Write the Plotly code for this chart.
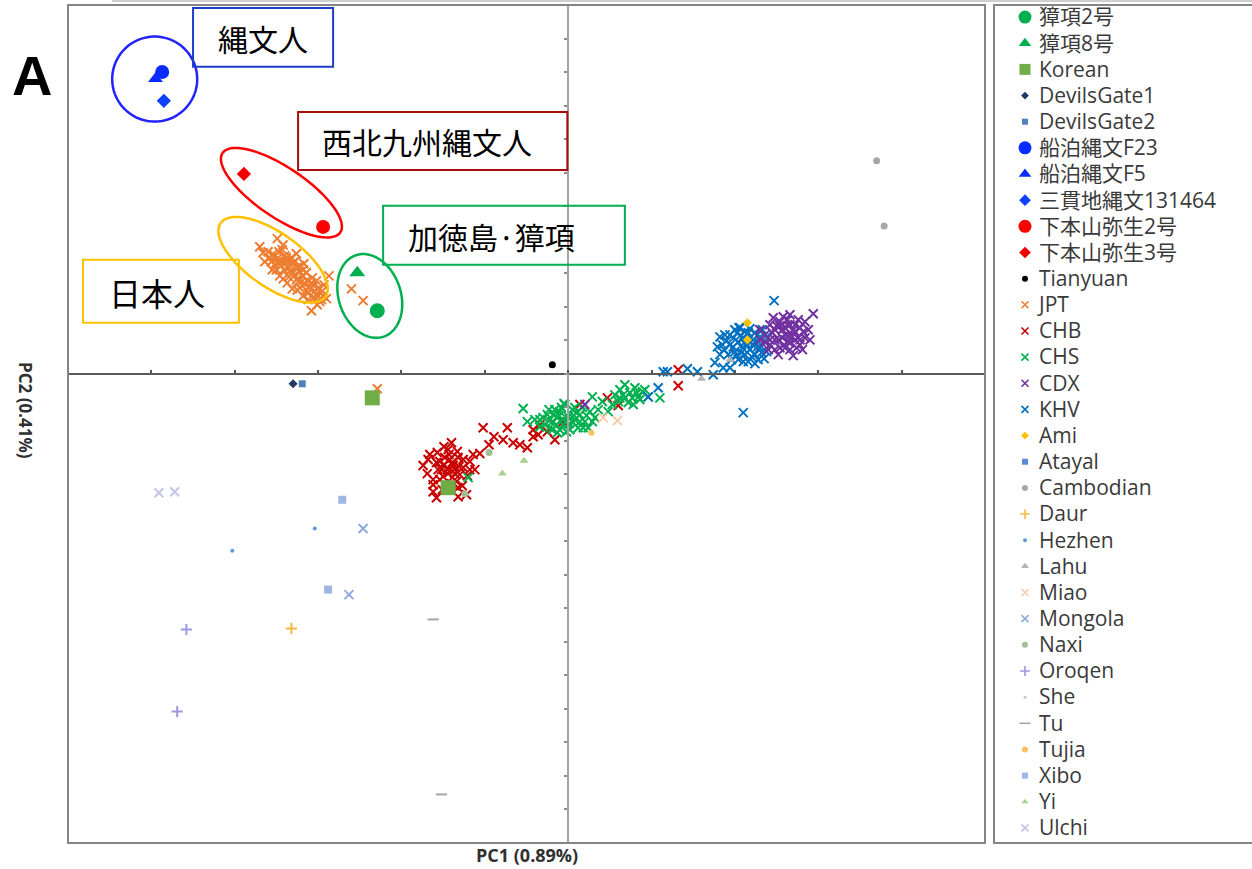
import math
import plotly.graph_objects as go

# ---------------------------------------------------------------------------
# PCA scores (PC1, PC2, both x100) for every sample group
# ---------------------------------------------------------------------------
JPT_PC1 = [-3.70, -3.49, -3.60, -3.52, -3.43, -3.56, -3.47, -3.38, -3.34, -3.41,
           -3.50, -3.30, -3.24, -3.35, -3.26, -3.19, -3.16, -3.22, -3.10, -3.05,
           -3.12, -3.00, -2.95, -3.02, -3.14, -3.28, -3.37, -3.46, -2.90, -2.87,
           -3.08, -2.98, -3.18, -3.31, -3.55, -3.64, -3.42, -3.26, -3.17, -3.07,
           -2.93, -3.01, -3.23, -3.40, -3.32, -3.14, -3.06, -2.94, -3.22, -3.48,
           -3.58, -2.60, -2.46, -2.29,
           -3.55, -3.46, -3.36, -3.29, -3.20, -3.11, -3.02, -3.40, -3.30, -3.22,
           -3.13, -3.08, -2.99, -3.25, -3.42, -3.52, -3.66, -3.34, -3.18, -3.05,
           -2.96, -3.12, -3.26, -3.37, -3.47]
JPT_PC2 = [3.79, 4.03, 3.64, 3.52, 3.70, 3.34, 3.28, 3.46, 3.25, 3.10,
           3.10, 3.04, 3.16, 2.89, 2.80, 2.92, 2.68, 2.56, 2.62, 2.44,
           2.41, 2.32, 2.47, 2.77, 3.01, 3.34, 2.71, 2.92, 2.24, 2.92,
           1.88, 2.15, 2.32, 2.53, 3.10, 3.34, 3.84, 3.58, 3.28, 2.86,
           2.65, 2.06, 2.77, 3.34, 3.46, 2.50, 2.26, 2.32, 3.04, 3.46,
           3.46, 2.53, 2.18, -0.45,
           3.55, 3.34, 3.16, 2.92, 2.74, 2.56, 2.38, 3.52, 3.31, 3.22,
           2.80, 2.71, 2.56, 2.50, 2.83, 3.25, 3.61, 3.04, 3.10, 2.62,
           2.21, 2.21, 3.16, 3.37, 3.64]

CHB_PC1 = [-1.74, -1.62, -1.62, -1.57, -1.44, -1.40, -1.32, -1.18, -1.06, -1.26,
           -1.54, -1.42, -1.32, -1.26, -1.36, -1.45, -1.50, -1.39, -1.62, -1.45,
           -1.32, -1.21, -1.49, -1.38, -1.30, -1.56, -1.68, -1.43, -1.34, -1.51,
           -1.14, -1.02, -0.89, -0.73, -0.95, -0.78, -0.66, -0.58, -0.49, -0.42,
           -0.34, -0.36, -0.25, -0.06, 0.14, 0.47, 0.60, 1.32, 1.32, -0.42, -0.16,
           -1.66, -1.58, -1.48, -1.39, -1.31, -1.44, -1.54, -1.40, -1.27, -1.58,
           -1.18, -1.12, -1.33, -1.69, -1.22, -1.49, -1.52, -1.36]
CHB_PC2 = [-2.74, -3.16, -3.52, -2.35, -2.26, -2.06, -3.67, -2.86, -2.38, -2.56,
           -2.62, -2.56, -2.50, -2.80, -2.86, -2.86, -3.07, -3.10, -3.31, -3.37,
           -3.40, -3.04, -2.71, -2.74, -3.01, -2.86, -2.56, -2.41, -3.22, -3.46,
           -2.41, -1.61, -1.88, -1.61, -2.12, -1.97, -2.06, -2.12, -2.21, -1.67,
           -1.52, -1.82, -1.73, -1.43, -0.92, -0.72, -0.95, 0.12, -0.36, -1.88, -1.97,
           -2.41, -2.65, -2.50, -2.65, -2.77, -2.98, -3.16, -3.28, -3.34, -3.70,
           -2.62, -2.86, -2.32, -2.98, -3.61, -2.18, -2.86, -2.98]

CHS_PC1 = [-0.34, -0.25, -0.19, -0.13, -0.10, -0.06, 0.00, 0.05, 0.08, 0.14,
           0.20, 0.12, 0.02, -0.10, -0.22, -0.28, -0.16, -0.04, 0.26, 0.32,
           0.24, 0.17, 0.36, 0.29, -0.05, -0.13, 0.06, -0.34, -0.40, -0.02,
           -0.18, 0.10,
           -0.30, -0.23, -0.14, -0.07, 0.01, 0.07, 0.14, 0.22, 0.29, -0.11,
           -0.19, -0.02, 0.18, 0.08, -0.08, -0.23,
           0.56, 0.62, 0.68, 0.74, 0.80, 0.84, 0.89, 0.72, 0.60, 0.78,
           0.92, 0.53, 0.68, 0.86, 0.66, 0.77, 0.82, 0.62,
           -0.54, -0.49, 1.10, -1.20, 0.41, 0.48, 0.96]
CHS_PC2 = [-1.37, -1.22, -1.43, -1.31, -1.13, -1.52, -1.28, -1.07, -1.37, -1.22,
           -1.43, -1.61, -1.67, -1.67, -1.61, -1.52, -1.07, -0.92, -1.13, -1.31,
           -1.61, -1.01, -1.07, -0.69, -0.89, -1.76, -1.46, -1.58, -1.37, -1.43,
           -1.22, -1.16,
           -1.31, -1.40, -1.52, -1.37, -1.49, -1.25, -1.43, -1.25, -1.43, -1.25,
           -1.67, -1.73, -1.61, -1.01, -1.01, -1.07,
           -0.63, -0.48, -0.72, -0.57, -0.42, -0.69, -0.54, -0.86, -0.83, -0.92,
           -0.48, -0.92, -0.33, -0.77, -0.63, -0.72, -0.57, -0.72,
           -1.04, -1.43, -0.72, -3.10, -0.83, -1.13, -0.69]

KHV_PC1 = [1.94, 2.00, 2.06, 2.12, 2.18, 2.24, 2.30, 2.16, 2.04, 1.94,
           2.09, 2.21, 2.30, 2.00, 2.12, 2.24, 2.36, 1.92, 2.04, 2.16,
           2.28, 2.38, 1.85, 1.88, 2.06, 2.18, 1.98, 2.33, 2.42, 2.11,
           1.98, 2.03, 2.10, 2.15, 2.22, 2.27, 2.08, 2.20, 2.32, 1.90,
           1.96, 2.10, 2.24, 2.35, 2.02, 1.87, 2.16, 2.28, 2.05, 2.38,
           2.47, 2.10, 1.19, 1.08, 0.96, 1.43, 1.74, 1.86, 1.94, 1.76,
           1.82, 1.79, 1.82, 1.14, 1.55]
KHV_PC2 = [1.16, 1.31, 1.37, 1.25, 1.34, 1.22, 1.10, 1.01, 0.95, 0.86,
           0.77, 0.86, 0.77, 0.66, 0.57, 0.57, 0.95, 0.57, 0.42, 0.36,
           0.42, 0.66, 0.86, 1.16, 1.13, 0.72, 1.07, 1.31, 0.86, 0.92,
           0.80, 1.22, 1.07, 0.86, 1.01, 0.80, 0.63, 0.51, 0.63, 0.98,
           0.42, 0.36, 0.30, 0.45, 0.54, 0.72, 1.22, 0.95, 1.37, 1.10,
           2.18, -1.16, 0.06, -0.42, -0.69, 0.15, -0.03, 0.18, 0.18, 0.33,
           0.57, 0.80, 1.10, 0.06, 0.06]

CDX_PC1 = [2.30, 2.36, 2.42, 2.48, 2.54, 2.60, 2.66, 2.72, 2.78, 2.84,
           2.94, 2.58, 2.48, 2.57, 2.64, 2.72, 2.78, 2.66, 2.54, 2.42,
           2.52, 2.70, 2.84, 2.88, 2.40, 2.60, 2.76, 2.46, 2.66, 2.90,
           2.36, 2.59, 2.50, 2.69, 2.81, 2.30, 2.72, 2.63,
           2.45, 2.52, 2.57, 2.64, 2.70, 2.76, 2.60, 2.74, 2.48, 2.66,
           2.82, 2.54, 2.64, 2.42, 2.78,
           0.20]
CDX_PC2 = [1.31, 1.16, 1.46, 1.31, 1.55, 1.37, 1.46, 1.25, 1.37, 1.55,
           1.79, 1.70, 1.01, 1.07, 0.95, 1.01, 0.86, 0.72, 0.77, 0.86,
           0.57, 0.54, 1.07, 1.31, 0.72, 1.16, 1.61, 1.67, 1.76, 1.01,
           0.95, 0.86, 1.43, 1.10, 0.72, 1.01, 1.46, 1.61,
           1.22, 1.01, 1.31, 1.13, 1.31, 1.07, 0.77, 0.77, 0.72, 0.92,
           1.25, 1.43, 1.43, 1.01, 1.01,
           -0.92]

AMI_PC1, AMI_PC2 = [2.15, 2.15], [1.52, 1.01]
ATAYAL_PC1, ATAYAL_PC2 = [], []
CAMBODIAN_PC1, CAMBODIAN_PC2 = [3.70, 3.79], [6.35, 4.41]
DAUR_PC1, DAUR_PC2 = [-3.32], [-7.60]
HEZHEN_PC1, HEZHEN_PC2 = [-3.04, -4.03], [-4.62, -5.28]
LAHU_PC1, LAHU_PC2 = [1.60, 1.94], [-0.15, 0.42]
MIAO_PC1, MIAO_PC2 = [0.42, 0.59], [-1.31, -1.40]
MONGOLA_PC1, MONGOLA_PC2 = [-2.46, -2.63], [-4.62, -6.59]
NAXI_PC1, NAXI_PC2 = [-1.24, -0.95], [-3.58, -2.35]
OROQEN_PC1, OROQEN_PC2 = [-4.58, -4.69], [-7.63, -10.08]
SHE_PC1, SHE_PC2 = [], []
TU_PC1, TU_PC2 = [-1.62, -1.52], [-7.33, -12.55]
TUJIA_PC1, TUJIA_PC2 = [0.28], [-1.76]
XIBO_PC1, XIBO_PC2 = [-2.71, -2.88], [-3.76, -6.44]
YI_PC1, YI_PC2 = [-0.79, -0.53], [-2.98, -2.60]
ULCHI_PC1, ULCHI_PC2 = [-4.91, -4.72], [-3.55, -3.52]

# ancient / reference individuals
JANGHANG2_PC1, JANGHANG2_PC2 = [-2.29], [1.88]
JANGHANG8_PC1, JANGHANG8_PC2 = [-2.53], [3.01]
KOREAN_PC1, KOREAN_PC2 = [-2.35, -1.44], [-0.72, -3.40]
DEVILSGATE1_PC1, DEVILSGATE1_PC2 = [-3.30], [-0.30]
DEVILSGATE2_PC1, DEVILSGATE2_PC2 = [-3.19], [-0.30]
FUNADOMARI_F23_PC1, FUNADOMARI_F23_PC2 = [-4.87], [9.00]
FUNADOMARI_F5_PC1, FUNADOMARI_F5_PC2 = [-4.95], [8.80]
SANGANJI_PC1, SANGANJI_PC2 = [-4.85], [8.14]
SHIMOMOTOYAMA2_PC1, SHIMOMOTOYAMA2_PC2 = [-2.94], [4.38]
SHIMOMOTOYAMA3_PC1, SHIMOMOTOYAMA3_PC2 = [-3.89], [5.96]
TIANYUAN_PC1, TIANYUAN_PC2 = [-0.19], [0.27]

# legend order
LEGEND = ["獐項2号", "獐項8号", "Korean", "DevilsGate1", "DevilsGate2",
          "船泊縄文F23", "船泊縄文F5", "三貫地縄文131464", "下本山弥生2号",
          "下本山弥生3号", "Tianyuan", "JPT", "CHB", "CHS", "CDX", "KHV", "Ami",
          "Atayal", "Cambodian", "Daur", "Hezhen", "Lahu", "Miao", "Mongola",
          "Naxi", "Oroqen", "She", "Tu", "Tujia", "Xibo", "Yi", "Ulchi"]

SCORES = {
    "獐項2号": (JANGHANG2_PC1, JANGHANG2_PC2),
    "獐項8号": (JANGHANG8_PC1, JANGHANG8_PC2),
    "Korean": (KOREAN_PC1, KOREAN_PC2),
    "DevilsGate1": (DEVILSGATE1_PC1, DEVILSGATE1_PC2),
    "DevilsGate2": (DEVILSGATE2_PC1, DEVILSGATE2_PC2),
    "船泊縄文F23": (FUNADOMARI_F23_PC1, FUNADOMARI_F23_PC2),
    "船泊縄文F5": (FUNADOMARI_F5_PC1, FUNADOMARI_F5_PC2),
    "三貫地縄文131464": (SANGANJI_PC1, SANGANJI_PC2),
    "下本山弥生2号": (SHIMOMOTOYAMA2_PC1, SHIMOMOTOYAMA2_PC2),
    "下本山弥生3号": (SHIMOMOTOYAMA3_PC1, SHIMOMOTOYAMA3_PC2),
    "Tianyuan": (TIANYUAN_PC1, TIANYUAN_PC2),
    "JPT": (JPT_PC1, JPT_PC2),
    "CHB": (CHB_PC1, CHB_PC2),
    "CHS": (CHS_PC1, CHS_PC2),
    "CDX": (CDX_PC1, CDX_PC2),
    "KHV": (KHV_PC1, KHV_PC2),
    "Ami": (AMI_PC1, AMI_PC2),
    "Atayal": (ATAYAL_PC1, ATAYAL_PC2),
    "Cambodian": (CAMBODIAN_PC1, CAMBODIAN_PC2),
    "Daur": (DAUR_PC1, DAUR_PC2),
    "Hezhen": (HEZHEN_PC1, HEZHEN_PC2),
    "Lahu": (LAHU_PC1, LAHU_PC2),
    "Miao": (MIAO_PC1, MIAO_PC2),
    "Mongola": (MONGOLA_PC1, MONGOLA_PC2),
    "Naxi": (NAXI_PC1, NAXI_PC2),
    "Oroqen": (OROQEN_PC1, OROQEN_PC2),
    "She": (SHE_PC1, SHE_PC2),
    "Tu": (TU_PC1, TU_PC2),
    "Tujia": (TUJIA_PC1, TUJIA_PC2),
    "Xibo": (XIBO_PC1, XIBO_PC2),
    "Yi": (YI_PC1, YI_PC2),
    "Ulchi": (ULCHI_PC1, ULCHI_PC2),
}

# marker style per group: symbol, colour, plot size, legend size
STYLE = {
    "獐項2号": ("circle", "#00b050", 15, 13),
    "獐項8号": ("triangle-up", "#00b050", 14, 11),
    "Korean": ("square", "#70ad47", 15, 11),
    "DevilsGate1": ("diamond", "#1f3864", 7, 6),
    "DevilsGate2": ("square", "#4f81bd", 7, 6),
    "船泊縄文F23": ("circle", "#0a2cff", 14, 13),
    "船泊縄文F5": ("triangle-up", "#0a2cff", 13, 11),
    "三貫地縄文131464": ("diamond", "#1040ff", 11, 9),
    "下本山弥生2号": ("circle", "#ff0000", 14, 13),
    "下本山弥生3号": ("diamond", "#f00000", 11, 9),
    "Tianyuan": ("circle", "#000000", 7, 6),
    "JPT": ("x-thin", "#ed7d31", 9, 7),
    "CHB": ("x-thin", "#c80000", 9, 7),
    "CHS": ("x-thin", "#00b050", 9, 7),
    "CDX": ("x-thin", "#7030a0", 9, 7),
    "KHV": ("x-thin", "#0070c0", 9, 7),
    "Ami": ("diamond", "#ffc000", 7, 6),
    "Atayal": ("square", "#5b8bd0", 7, 6),
    "Cambodian": ("circle", "#a6a6a6", 7, 6),
    "Daur": ("cross-thin", "#f4b942", 8, 7),
    "Hezhen": ("circle", "#5b9bd5", 4, 4),
    "Lahu": ("triangle-up", "#b4b4b4", 8, 7),
    "Miao": ("x-thin", "#f8cbad", 9, 7),
    "Mongola": ("x-thin", "#8faadc", 9, 7),
    "Naxi": ("circle", "#9fbf96", 7, 6),
    "Oroqen": ("cross-thin", "#9a9ae0", 8, 7),
    "She": ("circle", "#c8c8c8", 3, 3),
    "Tu": ("line-ew", "#a6a6a6", 8, 8),
    "Tujia": ("circle", "#f7c25e", 6, 6),
    "Xibo": ("square", "#9db6e3", 8, 6),
    "Yi": ("triangle-up", "#a9d18e", 8, 6),
    "Ulchi": ("x-thin", "#c5c5e8", 9, 7),
}
LINE_SYMBOLS = ("x-thin", "cross-thin", "line-ew")

# drawing order (bottom to top)
DRAW_ORDER = ["CHB", "CHS", "KHV", "CDX", "JPT", "Ami", "Atayal", "Cambodian",
              "Daur", "Hezhen", "Lahu", "Miao", "Mongola", "Naxi", "Oroqen",
              "She", "Tu", "Tujia", "Xibo", "Yi", "Ulchi", "Korean",
              "DevilsGate1", "DevilsGate2", "Tianyuan", "獐項8号", "獐項2号",
              "下本山弥生3号", "下本山弥生2号", "三貫地縄文131464",
              "船泊縄文F5", "船泊縄文F23"]

# ---------------------------------------------------------------------------
# layout geometry
# ---------------------------------------------------------------------------
FIG_W, FIG_H = 1252, 869
M_L, M_R, M_T, M_B = 68, 0, 4, 26
PAPER_W = FIG_W - M_L - M_R
PAPER_H = FIG_H - M_T - M_B
MAIN_W, MAIN_H = 917, 838
X_RANGE = [-6, 5]
Y_RANGE = [-14, 11]
X_DOM = [0, MAIN_W / PAPER_W]
Y_DOM = [0, MAIN_H / PAPER_H]
PX_PER_X = MAIN_W / (X_RANGE[1] - X_RANGE[0])
PX_PER_Y = MAIN_H / (Y_RANGE[1] - Y_RANGE[0])

fig = go.Figure()

for name in DRAW_ORDER:
    xs, ys = SCORES[name]
    if not xs:
        continue
    sym, col, size, _ = STYLE[name]
    fig.add_trace(go.Scatter(
        x=xs, y=ys, mode="markers", name=name, showlegend=False,
        hoverinfo="skip",
        marker=dict(symbol=sym, color=col, size=size, opacity=1,
                    line=dict(color=col, width=2 if sym in LINE_SYMBOLS else 0)),
    ))

# legend key drawn on its own category axis
fig.add_trace(go.Scatter(
    x=[0] * len(LEGEND), y=LEGEND, mode="markers", showlegend=False,
    hoverinfo="skip", xaxis="x2", yaxis="y2",
    marker=dict(
        symbol=[STYLE[n][0] for n in LEGEND],
        color=[STYLE[n][1] for n in LEGEND],
        size=[STYLE[n][3] for n in LEGEND],
        opacity=1,
        line=dict(color=[STYLE[n][1] for n in LEGEND],
                  width=[1.6 if STYLE[n][0] in LINE_SYMBOLS else 0 for n in LEGEND]),
    ),
))


def ellipse_path(cx, cy, a_px, b_px, angle_deg, n=90):
    """Closed SVG path of an ellipse given in screen pixels around a data centre."""
    th = math.radians(angle_deg)
    pts = []
    for i in range(n):
        t = 2 * math.pi * i / n
        dx = a_px * math.cos(t) * math.cos(th) - b_px * math.sin(t) * math.sin(th)
        dy = a_px * math.cos(t) * math.sin(th) + b_px * math.sin(t) * math.cos(th)
        pts.append((cx + dx / PX_PER_X, cy - dy / PX_PER_Y))
    return "M " + " L ".join(f"{x:.4f},{y:.4f}" for x, y in pts) + " Z"


shapes = []
# plot frame
shapes.append(dict(type="rect", xref="x domain", yref="y domain", x0=0, x1=1,
                   y0=0, y1=1, line=dict(color="#858585", width=2), layer="above"))
# legend frame
shapes.append(dict(type="rect", xref="paper", yref="paper",
                   x0=(994 - M_L) / PAPER_W, x1=1.02, y0=0, y1=(843 - 5) / PAPER_H,
                   line=dict(color="#858585", width=2)))
shapes.append(dict(type="line", xref="paper", yref="paper",
                   x0=(112 - M_L) / PAPER_W, x1=1.02, y0=1.0035, y1=1.0035,
                   line=dict(color="#cfcfcf", width=2)))

# group outlines
ELLIPSES = [
    ((-4.96, 8.79), 42.5, 42.5, 0, "#2323ff"),
    ((-3.44, 5.40), 71, 25, 34, "#ff0000"),
    ((-3.54, 3.40), 64, 27, 35, "#ffc000"),
    ((-2.38, 2.32), 43, 31, 71, "#00b050"),
]
for (cx, cy), a, b, ang, col in ELLIPSES:
    shapes.append(dict(type="path", xref="x", yref="y",
                       path=ellipse_path(cx, cy, a, b, ang),
                       line=dict(color=col, width=2.5), layer="above"))

# labelled boxes: text, x0, x1, y0, y1, text centre, border colour, font size
CALLOUTS = [
    ("縄文人", -4.50, -2.82, 9.16, 10.91, (-3.66, 10.02), "#1c3fc8", 30),
    ("西北九州縄文人", -3.24, -0.01, 6.08, 7.81, (-1.69, 6.95), "#a80c0c", 30),
    ("日本人", -5.82, -3.95, 1.52, 3.40, (-4.93, 2.44), "#ffc000", 32),
    ("加徳島·獐項", -2.22, 0.68, 3.25, 5.01, (-0.92, 4.11), "#00b050", 30),
]
annotations = []
for text, x0, x1, y0, y1, (tx, ty), col, fs in CALLOUTS:
    shapes.append(dict(type="rect", xref="x", yref="y", x0=x0, x1=x1, y0=y0, y1=y1,
                       line=dict(color=col, width=2), layer="above"))
    annotations.append(dict(x=tx, y=ty, xref="x", yref="y", text=text,
                            showarrow=False, xanchor="center", yanchor="middle",
                            font=dict(family="Noto Sans CJK JP", size=fs,
                                      color="#000000")))

annotations += [
    dict(x=(32 - M_L) / PAPER_W, y=(843 - 75) / PAPER_H, xref="paper", yref="paper",
         text="<b>A</b>", showarrow=False, xanchor="center", yanchor="middle",
         font=dict(family="Liberation Sans", size=56, color="#000000")),
    dict(x=0.5 * X_DOM[1], y=(843 - 855) / PAPER_H, xref="paper", yref="paper",
         text="<b>PC1 (0.89%)</b>", showarrow=False, xanchor="center",
         yanchor="middle",
         font=dict(family="Open Sans", size=18, color="#303030")),
    dict(x=(25 - M_L) / PAPER_W, y=(843 - 410) / PAPER_H, xref="paper",
         yref="paper", text="<b>PC2 (0.41%)</b>", showarrow=False, textangle=90,
         xanchor="center", yanchor="middle",
         font=dict(family="Open Sans", size=17, color="#303030")),
]

n_leg = len(LEGEND)
fig.update_layout(
    width=FIG_W, height=FIG_H, autosize=False,
    margin=dict(l=M_L, r=M_R, t=M_T, b=M_B),
    paper_bgcolor="#ffffff", plot_bgcolor="#ffffff",
    showlegend=False,
    xaxis=dict(domain=X_DOM, range=X_RANGE, anchor="free",
               position=Y_DOM[1] * (0 - Y_RANGE[0]) / (Y_RANGE[1] - Y_RANGE[0]),
               side="top", showline=True, linecolor="#5a5a5a", linewidth=2,
               ticks="outside", ticklen=3, tickwidth=1.5, tickcolor="#555555",
               tick0=0, dtick=1, showticklabels=False, showgrid=False,
               zeroline=False, fixedrange=True),
    yaxis=dict(domain=Y_DOM, range=Y_RANGE, anchor="free",
               position=X_DOM[1] * (0 - X_RANGE[0]) / (X_RANGE[1] - X_RANGE[0]),
               side="left", showline=True, linecolor="#a3a3a3", linewidth=2,
               ticks="outside", ticklen=3, tickwidth=1.5, tickcolor="#8c8c8c",
               tick0=0, dtick=1, showticklabels=False, showgrid=False,
               zeroline=False, fixedrange=True),
    xaxis2=dict(domain=[(1012 - M_L) / PAPER_W, (1038 - M_L) / PAPER_W],
                range=[-0.5, 0.5], anchor="y2", visible=False, fixedrange=True),
    yaxis2=dict(domain=[2 / PAPER_H, 1], anchor="x2", side="right",
                type="category", categoryorder="array", categoryarray=LEGEND,
                range=[n_leg - 0.5, -0.5], showline=False, ticks="",
                showgrid=False, zeroline=False, automargin=False,
                tickfont=dict(family="Open Sans, Noto Sans CJK JP", size=21,
                              color="#3a3a3a"),
                fixedrange=True),
    shapes=shapes,
    annotations=annotations,
)

fig.write_html("out.html")
